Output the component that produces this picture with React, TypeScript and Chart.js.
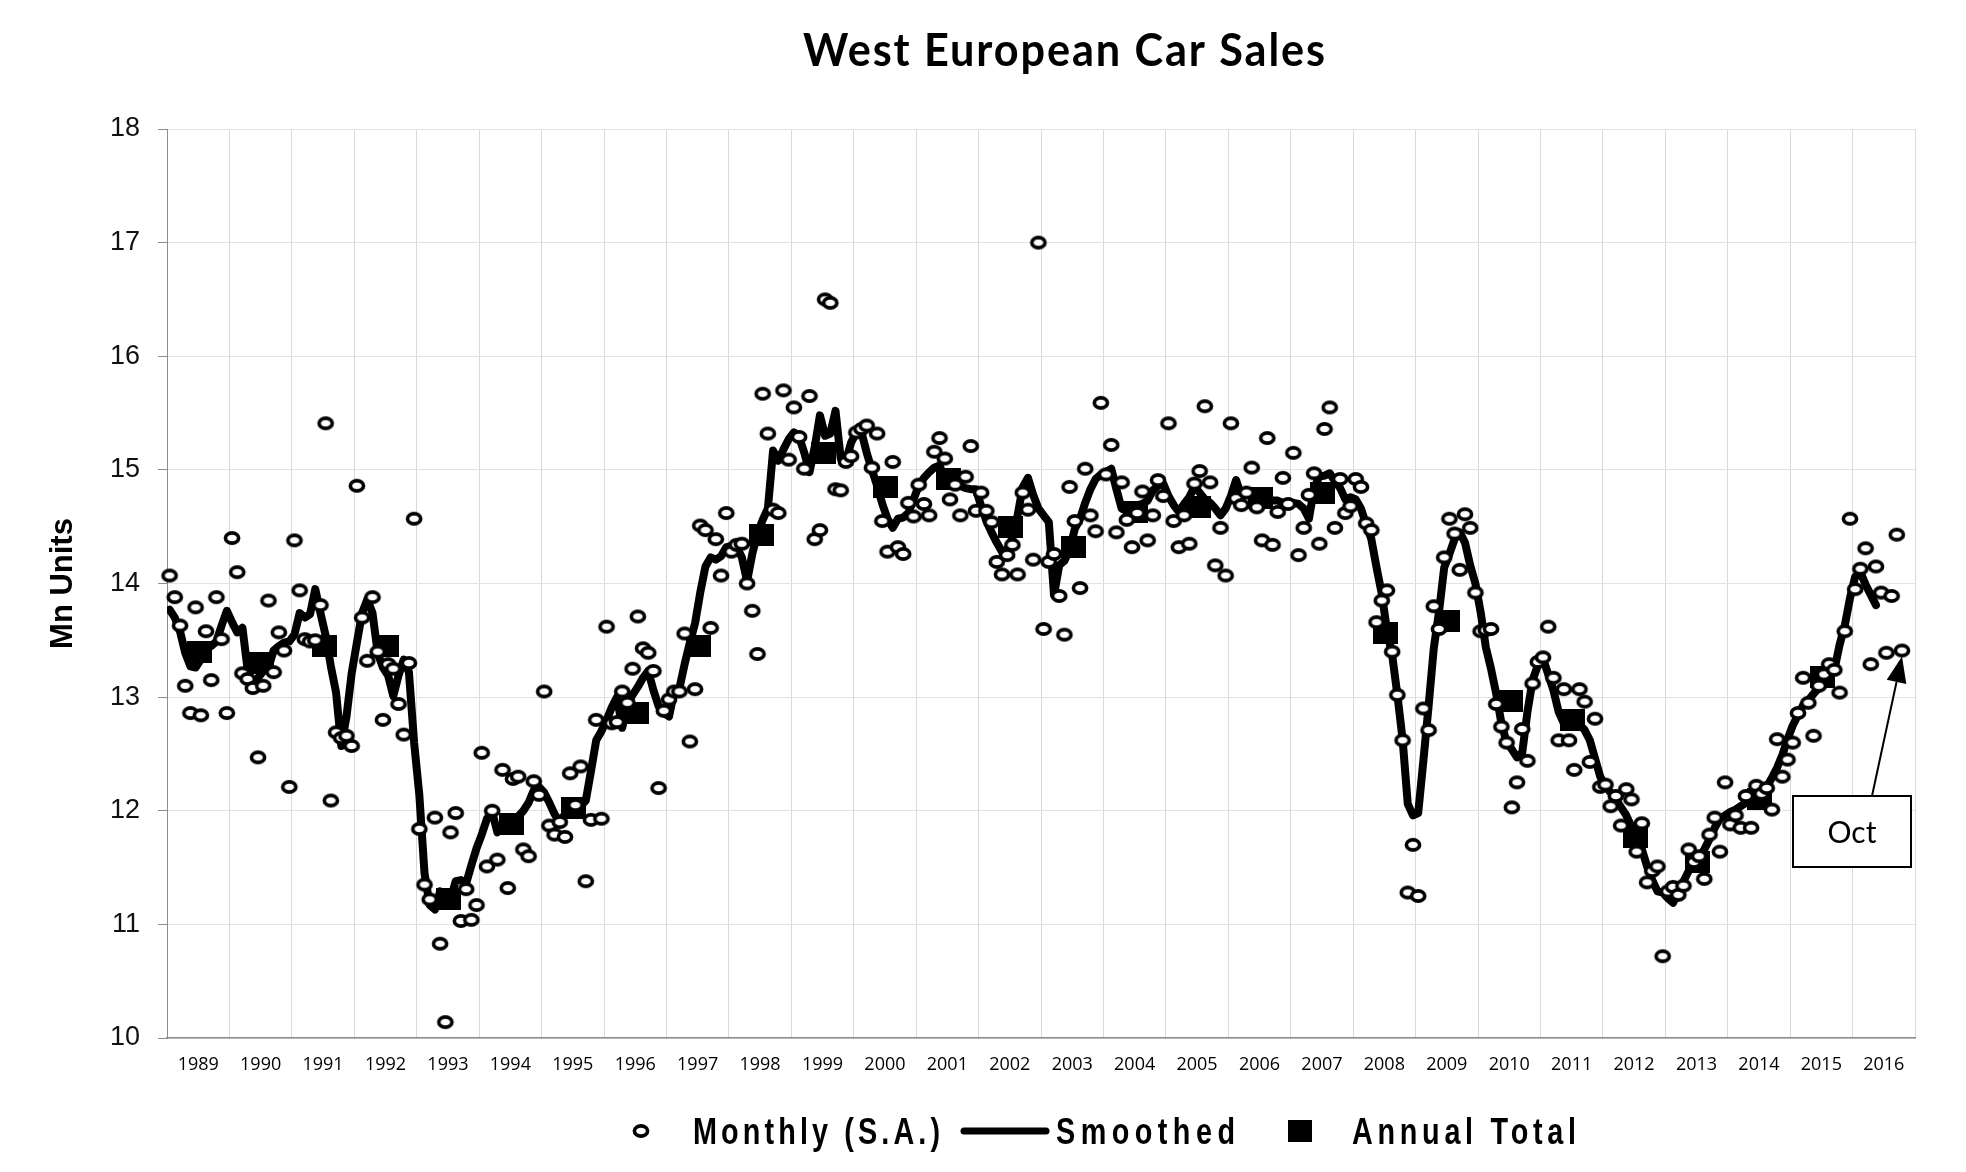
import React, { useEffect, useRef } from 'react';
import { Chart, registerables } from 'chart.js';

Chart.register(...registerables);

const YEARS = ['1989','1990','1991','1992','1993','1994','1995','1996','1997','1998','1999','2000','2001','2002','2003','2004','2005','2006','2007','2008','2009','2010','2011','2012','2013','2014','2015','2016'];

// Monthly (S.A.), Jan 1989 .. Oct 2016, Mn units (annualised)
const MONTHLY = [
  14.07, 13.88, 13.63, 13.10, 12.86, 13.79, 12.84, 13.58, 13.15, 13.88, 13.51, 12.86,
  14.40, 14.10, 13.21, 13.16, 13.08, 12.47, 13.10, 13.85, 13.22, 13.57, 13.41, 12.21,
  14.38, 13.94, 13.51, 13.49, 13.50, 13.81, 15.41, 12.09, 12.69, 12.64, 12.66, 12.57,
  14.86, 13.70, 13.32, 13.88, 13.40, 12.80, 13.29, 13.25, 12.94, 12.67, 13.30, 14.57,
  11.84, 11.35, 11.22, 11.94, 10.83, 10.14, 11.81, 11.98, 11.03, 11.31, 11.04, 11.17,
  12.51, 11.51, 12.00, 11.57, 12.36, 11.32, 12.28, 12.30, 11.66, 11.60, 12.26, 12.14,
  13.05, 11.87, 11.79, 11.90, 11.77, 12.33, 12.05, 12.39, 11.38, 11.92, 12.80, 11.93,
  13.62, 12.77, 12.78, 13.05, 12.95, 13.25, 13.71, 13.43, 13.39, 13.23, 12.20, 12.88,
  12.98, 13.05, 13.05, 13.56, 12.61, 13.07, 14.51, 14.47, 13.61, 14.39, 14.07, 14.62,
  14.28, 14.34, 14.35, 14.00, 13.76, 13.38, 15.67, 15.32, 14.65, 14.62, 15.70, 15.09,
  15.55, 15.29, 15.01, 15.65, 14.39, 14.47, 16.50, 16.47, 14.83, 14.82, 15.07, 15.12,
  15.33, 15.36, 15.39, 15.02, 15.32, 14.55, 14.28, 15.07, 14.32, 14.26, 14.71, 14.59,
  14.87, 14.70, 14.60, 15.16, 15.28, 15.10, 14.74, 14.87, 14.60, 14.94, 15.21, 14.64,
  14.80, 14.64, 14.54, 14.19, 14.08, 14.25, 14.34, 14.08, 14.80, 14.65, 14.21, 17.00,
  13.60, 14.19, 14.26, 13.89, 13.55, 14.85, 14.55, 13.96, 15.01, 14.60, 14.46, 15.59,
  14.96, 15.22, 14.45, 14.89, 14.56, 14.32, 14.62, 14.81, 14.38, 14.60, 14.91, 14.77,
  15.41, 14.55, 14.32, 14.60, 14.35, 14.88, 14.99, 15.56, 14.89, 14.16, 14.49, 14.07,
  15.41, 14.75, 14.69, 14.80, 15.02, 14.67, 14.38, 15.28, 14.34, 14.63, 14.93, 14.70,
  15.15, 14.25, 14.49, 14.78, 14.97, 14.35, 15.36, 15.55, 14.49, 14.92, 14.62, 14.68,
  14.92, 14.85, 14.53, 14.47, 13.66, 13.85, 13.94, 13.40, 13.02, 12.62, 11.28, 11.70,
  11.25, 12.90, 12.71, 13.80, 13.60, 14.23, 14.57, 14.44, 14.12, 14.61, 14.49, 13.92,
  13.58, 13.59, 13.60, 12.94, 12.74, 12.60, 12.03, 12.25, 12.72, 12.44, 13.12, 13.31,
  13.35, 13.62, 13.17, 12.62, 13.07, 12.62, 12.36, 13.07, 12.96, 12.43, 12.81, 12.21,
  12.23, 12.04, 12.13, 11.87, 12.19, 12.10, 11.64, 11.89, 11.37, 11.47, 11.51, 10.72,
  11.29, 11.33, 11.26, 11.34, 11.66, 11.55, 11.60, 11.40, 11.79, 11.94, 11.64, 12.25,
  11.88, 11.96, 11.85, 12.13, 11.85, 12.22, 12.15, 12.20, 12.01, 12.63, 12.30, 12.45,
  12.60, 12.86, 13.17, 12.95, 12.66, 13.10, 13.20, 13.29, 13.24, 13.04, 13.58, 14.57,
  13.95, 14.13, 14.31, 13.29, 14.15, 13.92, 13.39, 13.89, 14.43, 13.41
];

// Smoothed, Jan 1989 .. May 2016
const SMOOTHED = [
  13.77, 13.70, 13.58, 13.39, 13.27, 13.26, 13.33, 13.44, 13.45, 13.49, 13.63, 13.76,
  13.66, 13.57, 13.61, 13.24, 13.07, 13.17, 13.23, 13.26, 13.41, 13.45, 13.48, 13.49,
  13.55, 13.74, 13.70, 13.73, 13.95, 13.74, 13.54, 13.27, 13.04, 12.57, 12.83, 13.21,
  13.48, 13.74, 13.86, 13.74, 13.39, 13.26, 13.19, 13.01, 13.19, 13.33, 13.22, 12.60,
  12.14, 11.45, 11.17, 11.13, 11.29, 11.27, 11.22, 11.38, 11.39, 11.36, 11.52, 11.67,
  11.79, 11.93, 11.99, 11.81, 11.88, 11.92, 11.93, 11.95, 12.00, 12.07, 12.18, 12.21,
  12.16, 12.07, 11.97, 11.90, 11.97, 12.00, 12.02, 12.04, 12.09, 12.35, 12.62, 12.70,
  12.80, 12.91, 13.00, 12.73, 12.94, 13.02, 13.09, 13.17, 13.23, 13.06, 12.92, 12.86,
  12.83, 13.05, 13.08, 13.29, 13.48, 13.65, 13.92, 14.15, 14.23, 14.21, 14.24, 14.32,
  14.33, 14.32, 14.23, 14.02, 14.26, 14.44, 14.56, 14.66, 15.17, 15.08, 15.18, 15.27,
  15.33, 15.29, 15.15, 14.98, 15.20, 15.48, 15.30, 15.32, 15.52, 15.10, 15.08, 15.24,
  15.33, 15.33, 15.15, 15.00, 14.86, 14.70, 14.57, 14.49, 14.57, 14.58, 14.62, 14.74,
  14.86, 14.93, 14.98, 15.02, 15.04, 14.92, 14.89, 14.88, 14.86, 14.84, 14.83, 14.83,
  14.68, 14.55, 14.45, 14.36, 14.28, 14.30, 14.40, 14.60, 14.85, 14.93, 14.78, 14.66,
  14.60, 14.54, 13.90, 14.16, 14.20, 14.30, 14.48, 14.57, 14.71, 14.83, 14.92, 14.96,
  14.98, 15.01, 14.83, 14.66, 14.64, 14.66, 14.69, 14.70, 14.73, 14.82, 14.86, 14.88,
  14.77, 14.69, 14.63, 14.70, 14.76, 14.85, 14.80, 14.74, 14.71, 14.66, 14.60, 14.66,
  14.77, 14.91, 14.77, 14.82, 14.78, 14.74, 14.73, 14.74, 14.73, 14.73, 14.71, 14.70,
  14.71, 14.70, 14.66, 14.57, 14.84, 14.94, 14.95, 14.97, 14.90, 14.84, 14.74, 14.76,
  14.74, 14.66, 14.52, 14.39, 14.14, 13.91, 13.59, 13.37, 13.02, 12.63, 12.06, 11.96,
  11.98, 12.44, 12.92, 13.43, 13.75, 14.14, 14.26, 14.39, 14.45, 14.36, 14.16, 14.00,
  13.75, 13.44, 13.25, 13.03, 12.77, 12.60, 12.54, 12.47, 12.51, 12.87, 13.15, 13.28,
  13.34, 13.20, 13.06, 12.87, 12.77, 12.81, 12.79, 12.76, 12.71, 12.62, 12.46, 12.30,
  12.21, 12.16, 12.10, 12.03, 11.96, 11.86, 11.75, 11.66, 11.51, 11.39, 11.29, 11.28,
  11.23, 11.19, 11.28, 11.38, 11.47, 11.53, 11.59, 11.66, 11.75, 11.85, 11.93, 11.96,
  11.99, 12.01, 12.04, 12.07, 12.10, 12.13, 12.15, 12.21, 12.29, 12.38, 12.49, 12.63,
  12.75, 12.84, 12.93, 12.97, 13.03, 13.08, 13.13, 13.19, 13.24, 13.46, 13.63, 13.87,
  14.06, 14.10, 13.99, 13.90, 13.81
];

// Annual totals 1989 .. 2015
const ANNUAL = [
  13.40, 13.30, 13.45, 13.45, 11.22, 11.88, 12.02, 12.86, 13.45, 14.43, 15.15, 14.85, 14.92, 14.50,
  14.32, 14.63, 14.67, 14.75, 14.80, 13.56, 13.67, 12.97, 12.80, 11.77, 11.55, 12.10, 13.18
];

const Y_TICKS = [10, 11, 12, 13, 14, 15, 16, 17, 18];
const TITLE = 'West European Car Sales';
const Y_TITLE = 'Mn Units';
const LEGEND_LABELS = ['Monthly (S.A.)', 'Smoothed', 'Annual Total'];
const CALLOUT = 'Oct';

const W = 1966;
const H = 1172;

function makeEllipse(): HTMLCanvasElement {
  const c = document.createElement('canvas');
  c.width = 22;
  c.height = 18;
  const g = c.getContext('2d') as CanvasRenderingContext2D;
  g.beginPath();
  g.ellipse(11, 9, 6.6, 5.1, 0, 0, Math.PI * 2);
  g.fillStyle = '#ffffff';
  g.fill();
  g.lineWidth = 3.6;
  g.strokeStyle = '#000000';
  g.stroke();
  return c;
}

function makeBlock(): HTMLCanvasElement {
  const c = document.createElement('canvas');
  c.width = 25;
  c.height = 22;
  const g = c.getContext('2d') as CanvasRenderingContext2D;
  g.fillStyle = '#000000';
  g.fillRect(0, 0, 25, 22);
  return c;
}

// Draws text between x0 and x1, horizontally compressed by sx, with letter spacing fitted.
function fitText(ctx: any, text: string, font: string, x0: number, x1: number, y: number, sx: number) {
  ctx.save();
  ctx.font = font;
  ctx.letterSpacing = '0px';
  ctx.textAlign = 'left';
  ctx.textBaseline = 'alphabetic';
  const w = ctx.measureText(text).width * sx;
  const s = (x1 - x0 - w) / Math.max(1, text.length - 1) / sx;
  ctx.letterSpacing = s.toFixed(2) + 'px';
  ctx.translate(x0, y);
  ctx.scale(sx, 1);
  ctx.fillText(text, 0, 0);
  ctx.restore();
}

export default function App() {
  const ref = useRef<HTMLCanvasElement | null>(null);

  useEffect(() => {
    document.body.style.margin = '0';
    document.body.style.overflow = 'hidden';
    const canvas = ref.current;
    if (!canvas) return;
    const ellipse = makeEllipse();
    const block = makeBlock();

    const monthlyData = MONTHLY.map((v, i) => ({ x: i + 0.5, y: v }));
    const smoothData = SMOOTHED.map((v, i) => ({ x: i + 0.5, y: v }));
    const annualData = ANNUAL.map((v, i) => ({ x: i * 12 + 6.2, y: v }));

    const decor = {
      id: 'decor',
      afterDraw(chart: any) {
        const ctx = chart.ctx;
        const ca = chart.chartArea;
        const xs = chart.scales.x;
        const ys = chart.scales.y;
        ctx.save();
        ctx.fillStyle = '#000';
        ctx.strokeStyle = '#000';

        // Title
        fitText(ctx, TITLE, 'bold 46px Lato, "Open Sans", sans-serif', 803, 1325, 66, 0.94);

        // Y axis title
        ctx.save();
        ctx.translate(63, (ca.top + ca.bottom) / 2);
        ctx.rotate(-Math.PI / 2);
        ctx.font = 'bold 31px "Liberation Sans", Arial, sans-serif';
        ctx.textAlign = 'center';
        ctx.textBaseline = 'middle';
        ctx.fillText(Y_TITLE, 0, 0);
        ctx.restore();

        // Legend
        const ly = 1131;
        const lb = 1144;
        const lf = 'bold 36px "Liberation Sans", Arial, sans-serif';
        ctx.drawImage(ellipse, 641 - ellipse.width / 2, ly - ellipse.height / 2);
        fitText(ctx, LEGEND_LABELS[0], lf, 693, 940, lb, 0.8);
        ctx.beginPath();
        ctx.lineWidth = 7;
        ctx.lineCap = 'round';
        ctx.moveTo(964, ly);
        ctx.lineTo(1046, ly);
        ctx.stroke();
        fitText(ctx, LEGEND_LABELS[1], lf, 1056, 1235, lb, 0.8);
        ctx.fillRect(1288, 1120, 24, 22);
        fitText(ctx, LEGEND_LABELS[2], lf, 1352, 1576, lb, 0.8);

        // Callout box with arrow to the last (October) monthly point
        const bx = 1793, by = 796, bw = 118, bh = 71;
        const tipX = xs.getPixelForValue(MONTHLY.length - 0.5);
        const tipY = ys.getPixelForValue(MONTHLY[MONTHLY.length - 1]) + 6;
        const sx = 1872, sy = by;
        const ang = Math.atan2(tipY - sy, tipX - sx);
        const hl = 26, hw = 10;
        const baseX = tipX - hl * Math.cos(ang);
        const baseY = tipY - hl * Math.sin(ang);
        ctx.beginPath();
        ctx.lineWidth = 2;
        ctx.lineCap = 'butt';
        ctx.moveTo(sx, sy);
        ctx.lineTo(baseX, baseY);
        ctx.stroke();
        ctx.beginPath();
        ctx.moveTo(tipX, tipY);
        ctx.lineTo(baseX + hw * Math.sin(ang), baseY - hw * Math.cos(ang));
        ctx.lineTo(baseX - hw * Math.sin(ang), baseY + hw * Math.cos(ang));
        ctx.closePath();
        ctx.fill();

        ctx.fillStyle = '#fff';
        ctx.fillRect(bx, by, bw, bh);
        ctx.lineWidth = 2;
        ctx.strokeRect(bx, by, bw, bh);
        ctx.fillStyle = '#000';
        ctx.font = '30px Lato, "Open Sans", sans-serif';
        ctx.textAlign = 'center';
        ctx.textBaseline = 'alphabetic';
        ctx.fillText(CALLOUT, bx + bw / 2, 843);
        ctx.restore();
      },
    };

    const chart = new Chart(canvas, {
      type: 'line',
      data: {
        datasets: [
          {
            label: LEGEND_LABELS[0],
            data: monthlyData,
            showLine: false,
            pointStyle: ellipse as any,
            pointRadius: 6,
            pointHoverRadius: 6,
            clip: false as any,
          },
          {
            label: LEGEND_LABELS[2],
            data: annualData,
            showLine: false,
            pointStyle: block as any,
            pointRadius: 10,
            pointHoverRadius: 10,
            clip: false as any,
          },
          {
            label: LEGEND_LABELS[1],
            data: smoothData,
            borderColor: '#000',
            borderWidth: 8,
            borderJoinStyle: 'round',
            borderCapStyle: 'round',
            pointRadius: 0,
            tension: 0,
            fill: false,
          },
        ],
      },
      options: {
        responsive: false,
        animation: false,
        events: [],
        layout: { padding: { top: 129, right: 51, bottom: 0, left: 0 } },
        plugins: {
          legend: { display: false },
          title: { display: false },
          tooltip: { enabled: false },
        },
        scales: {
          x: {
            type: 'linear',
            min: 0,
            max: 336,
            afterFit: (s: any) => { s.height = 134; },
            afterBuildTicks: (s: any) => {
              const t = [];
              for (let v = 0; v <= 336; v += 6) t.push({ value: v });
              s.ticks = t;
            },
            grid: {
              color: (c: any) => (c.tick && c.tick.value % 12 === 0 ? '#d9d9d9' : 'rgba(0,0,0,0)'),
              lineWidth: 1,
              drawTicks: false,
            },
            border: { display: true, color: '#8c8c8c', width: 1.5 },
            ticks: {
              autoSkip: false,
              maxRotation: 0,
              minRotation: 0,
              padding: 16,
              color: '#000',
              font: { family: '"Open Sans", Lato, sans-serif', size: 18 },
              callback: (v: any) => {
                const n = Number(v);
                return n % 12 === 6 ? YEARS[(n - 6) / 12] : '';
              },
            },
          },
          y: {
            type: 'linear',
            min: 10,
            max: 18,
            afterFit: (s: any) => { s.width = 167; },
            afterBuildTicks: (s: any) => { s.ticks = Y_TICKS.map((v) => ({ value: v })); },
            grid: { color: '#e3e3e3', lineWidth: 1, tickLength: 9, tickColor: '#8c8c8c' },
            border: { display: true, color: '#8c8c8c', width: 1 },
            ticks: {
              padding: 18,
              color: '#111',
              font: { family: '"Liberation Sans", Arial, sans-serif', size: 27 },
            },
          },
        },
      },
      plugins: [decor],
    } as any);

    return () => chart.destroy();
  }, []);

  return (
    <div style={{ position: 'absolute', left: 0, top: 0, width: W, height: H, background: '#fff' }}>
      <canvas ref={ref} width={W} height={H} style={{ display: 'block' }} />
    </div>
  );
}
